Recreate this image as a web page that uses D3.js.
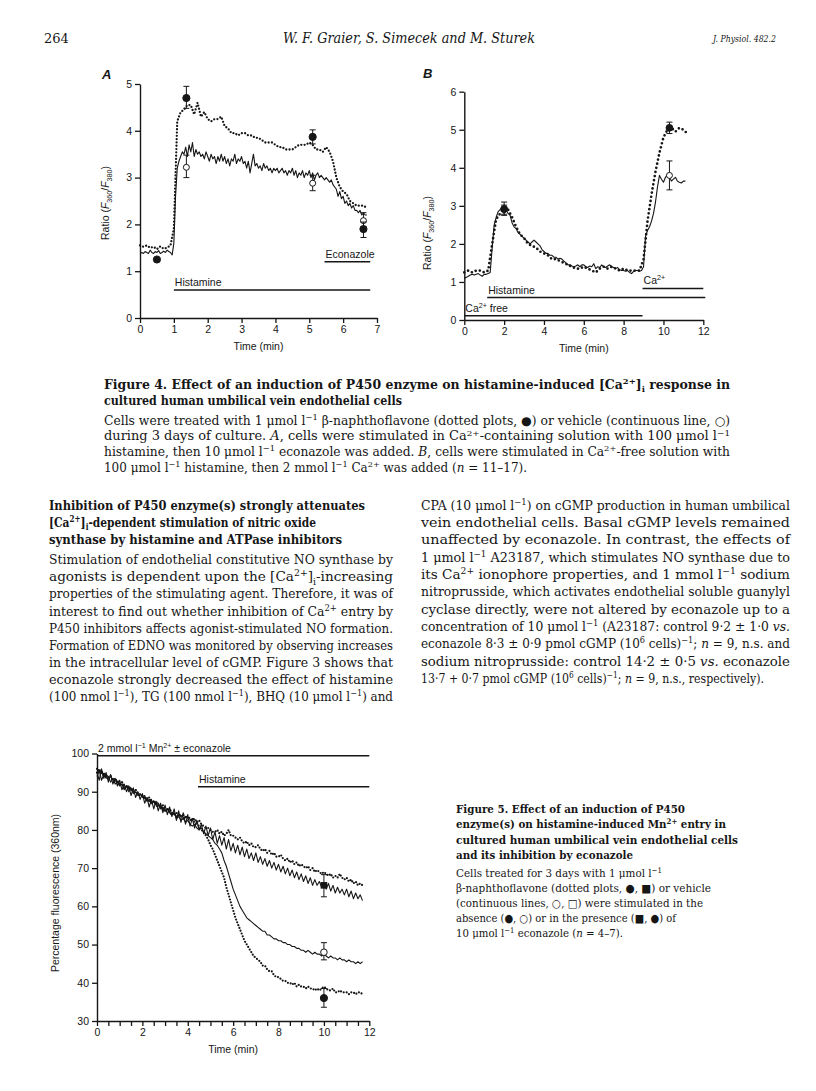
<!DOCTYPE html>
<html>
<head>
<meta charset="utf-8">
<script src="https://cdn.jsdelivr.net/npm/d3@7"></script>
<style>
body { margin: 0; background: #fff; }
</style>
</head>
<body>
<div id="page"></div>
<script>
// ---------- data ----------

// Fig 4A : ratio traces, sampled at a fixed step (min)
var aDotStep = 0.1;
var aDotted = [1.55, 1.52, 1.55, 1.5, 1.52, 1.47, 1.53, 1.48, 1.5, 1.55,
    1.9, 4.2, 4.4, 4.45, 4.55, 4.55, 4.35, 4.6, 4.3, 4.4,
    4.25, 4.2, 4.25, 4.25, 4.3, 4.1, 4.05, 3.95, 3.95, 3.9,
    3.95, 3.95, 3.9, 3.9, 3.85, 3.85, 3.8, 3.75, 3.75, 3.75,
    3.7, 3.65, 3.65, 3.6, 3.6, 3.6, 3.65, 3.7, 3.7, 3.7,
    3.75, 3.7, 3.6, 3.6, 3.55, 3.65, 3.55, 3.35, 3.0, 2.8,
    2.7, 2.65, 2.5, 2.45, 2.4, 2.4, 2.4, 2.35];
var aSolidStep = 0.05;
var aSolid = [1.38, 1.4, 1.38, 1.42, 1.4, 1.38, 1.45, 1.4, 1.38, 1.42, 1.4, 1.44, 1.38, 1.4, 1.43, 1.4, 1.45, 1.42, 1.4, 1.35,
    1.6, 2.6, 3.2, 3.35, 3.45, 3.55, 3.5, 3.65, 3.45, 3.7, 3.55, 3.75, 3.45, 3.6, 3.5, 3.55, 3.45, 3.5, 3.4, 3.55,
    3.45, 3.35, 3.5, 3.4, 3.45, 3.3, 3.45, 3.35, 3.5, 3.35, 3.45, 3.3, 3.4, 3.25, 3.4, 3.35, 3.5, 3.3, 3.4, 3.35,
    3.45, 3.3, 3.35, 3.2, 3.35, 3.1, 3.3, 3.5, 3.25, 3.3, 3.2, 3.25, 3.15, 3.3, 3.2, 3.25, 3.15, 3.2, 3.1, 3.2,
    3.15, 3.2, 3.1, 3.15, 3.2, 3.1, 3.15, 3.05, 3.15, 3.1, 3.2, 3.05, 3.15, 3.0, 3.1, 3.05, 3.15, 3.0, 3.1, 3.05,
    3.15, 3.0, 3.1, 2.95, 3.05, 3.1, 3.0, 3.05, 3.0, 2.95, 3.0, 2.95, 2.9, 2.95, 2.85, 2.8, 2.75, 2.6, 2.7, 2.55,
    2.6, 2.45, 2.5, 2.4, 2.45, 2.35, 2.4, 2.3, 2.3, 2.25, 2.3, 2.2, 2.25, 2.2, 2.2];
// means with SEM: [time, value, low, high]
var aFilled = [[0.5, 1.25, null, null], [1.37, 4.7, 4.48, 4.95], [5.1, 3.87, 3.72, 4.02], [6.6, 1.9, 1.72, 2.05]];
var aOpen = [[1.37, 3.22, 3.0, 3.48], [5.1, 2.88, 2.72, 3.05], [6.6, 2.08, 1.95, 2.25]];

// Fig 4B
var bDotStep = 0.2;
var bDotted = [1.25, 1.3, 1.25, 1.3, 1.3, 1.25, 1.3, 2.0, 2.65, 2.8,
    2.95, 2.9, 2.7, 2.45, 2.25, 2.15, 2.0, 1.95, 1.9, 1.8,
    1.75, 1.7, 1.6, 1.6, 1.55, 1.5, 1.45, 1.4, 1.35, 1.35,
    1.4, 1.35, 1.3, 1.25, 1.35, 1.4, 1.35, 1.4, 1.35, 1.3,
    1.35, 1.3, 1.3, 1.3, 1.3, 1.6, 2.6, 3.3, 3.9, 4.4,
    4.8, 5.0, 5.05, 4.95, 5.05, 5.0, 4.9];
var bSolidStep = 0.1;
var bSolid = [1.1, 1.12, 1.15, 1.18, 1.2, 1.18, 1.2, 1.22, 1.18, 1.15, 1.2, 1.2, 1.22, 1.25, 1.9, 2.5, 2.7, 2.85, 2.9, 2.95,
    2.95, 2.9, 2.8, 2.75, 2.55, 2.45, 2.4, 2.3, 2.25, 2.2, 2.15, 2.1, 2.05, 2.0, 2.05, 2.1, 2.05, 2.0, 1.95, 1.85,
    1.8, 1.75, 1.75, 1.7, 1.7, 1.65, 1.65, 1.6, 1.62, 1.6, 1.55, 1.5, 1.45, 1.45, 1.42, 1.4, 1.42, 1.45, 1.4, 1.45,
    1.45, 1.4, 1.38, 1.42, 1.4, 1.48, 1.35, 1.4, 1.38, 1.45, 1.4, 1.38, 1.42, 1.45, 1.4, 1.38, 1.35, 1.38, 1.32, 1.3,
    1.3, 1.28, 1.3, 1.25, 1.22, 1.28, 1.3, 1.3, 1.28, 1.3, 1.4, 2.2, 2.35, 2.45, 2.6, 2.8, 3.1, 3.5, 3.8, 3.7,
    3.62, 3.75, 3.82, 3.75, 3.65, 3.7, 3.75, 3.65, 3.62, 3.6, 3.65, 3.65];
var bFilled = [[2.0, 2.92, 2.75, 3.1], [10.3, 5.05, 4.9, 5.2]];
var bOpen = [[2.0, 2.9, 2.78, 3.02], [10.3, 3.8, 3.42, 4.18]];

// Fig 5 : % fluorescence, 0.1 min step
var mnStep = 0.1;
var mnDotHist = [95, 96, 94.5, 95, 94, 93.5, 94, 93, 92.5, 93,
    92, 92.5, 91.5, 91, 91.5, 90.5, 90, 90.5, 89.5, 89,
    89, 88.5, 88, 88.5, 87.5, 87, 87.5, 86.5, 86, 86.5,
    85.5, 85, 85.5, 84.5, 84, 84.5, 83.5, 84, 83, 83.5,
    83, 82.5, 83, 82, 81.5, 81, 80, 79.5, 78.5, 77.5,
    76, 75, 73.5, 72, 70.5, 69, 67.5, 65, 63, 61,
    59, 57, 55.5, 54, 52.5, 51, 50, 49, 48, 47,
    46.5, 46, 45.5, 44.5, 44.5, 43.5, 43, 43, 42, 41.5,
    41.5, 41, 40.5, 40.5, 40, 40, 39.5, 40, 39, 39.5,
    39, 39, 38.5, 39, 38.5, 38.5, 38, 38.5, 38, 38.5,
    39, 38.5, 38, 38, 38.5, 37.5, 37.5, 38, 37.5, 37.5,
    37.5, 37, 37.5, 37.5, 37, 37.5, 37.5, 37];
var mnSolHist = [94, 95.5, 93, 94.5, 93.5, 94, 92.5, 93.5, 92, 92.5,
    91.5, 92, 90.5, 91.5, 90, 91, 89.5, 90, 89, 89.5,
    88.5, 89, 87.5, 88, 87, 87.5, 86.5, 87, 85.5, 86,
    85, 85.5, 84.5, 84, 84.5, 83, 83.5, 82.5, 83, 82,
    82.5, 81.5, 81, 81.5, 80.5, 80, 80.5, 79.5, 79, 78.5,
    78, 77.5, 76.5, 76, 75, 74, 72, 70.5, 68.5, 66.5,
    64.5, 63, 61.5, 60, 59, 58, 57, 56.5, 56, 55.5,
    55, 54.5, 54, 53.5, 53.5, 52.5, 52.5, 52, 51.5, 51.5,
    51, 51, 50.5, 50.5, 50, 50, 49.5, 49.5, 49, 49,
    48.5, 48.5, 48, 48.5, 48, 47.5, 48, 47.5, 47.5, 47,
    47.5, 47, 46.5, 47, 46.5, 46.5, 46, 46.5, 46, 46,
    45.5, 46, 45.5, 45.5, 45, 45.5, 45, 45.5];
var mnDotEco = [96, 95, 95.5, 94, 94.5, 93.5, 94, 93, 93.5, 92.5,
    92, 92.5, 91, 91.5, 90.5, 91, 90, 90.5, 89.5, 89,
    89, 88, 88.5, 87.5, 87, 87.5, 86.5, 86, 86.5, 85.5,
    85, 85.5, 84.5, 84, 84.5, 83.5, 84, 83.5, 84, 83,
    83.5, 83, 82.5, 83, 82, 82.5, 81.5, 81, 80.5, 80.5,
    80, 79.5, 79.5, 80, 79, 79.5, 78.5, 79, 80, 78.5,
    78.5, 78, 77.5, 78, 77, 76.5, 77, 76, 76.5, 75.5,
    75.5, 76, 75, 74.5, 75, 74, 74.5, 73.5, 74, 73,
    73, 73.5, 72.5, 72, 72.5, 71.5, 72, 71, 71.5, 70.5,
    71, 70.5, 70, 70.5, 69.5, 70, 69, 69.5, 69, 68.5,
    69, 68.5, 68, 68.5, 67.5, 68, 67.5, 68.5, 67.5, 67,
    67.5, 66.5, 67, 66, 66.5, 65.5, 66, 65.5];
var mnSolEco = [95, 93, 96, 93.5, 95, 92.5, 94.5, 92, 93.5, 91.5,
    93, 90.5, 92, 90, 91.5, 89, 91, 88.5, 90, 88,
    89.5, 87, 88.5, 86, 88, 85.5, 87.5, 85, 87, 84.5,
    86.5, 84, 86, 83.5, 85.5, 82.5, 85, 82, 84.5, 81.5,
    84, 81, 83, 80.5, 82.5, 80, 81.5, 79, 81, 78.5,
    80.5, 77.5, 79.5, 76.5, 78.5, 76, 78, 75, 77.5, 74.5,
    76.5, 74, 76, 73.5, 75.5, 73, 75, 72.5, 74, 72,
    74, 71.5, 73, 71, 72.5, 70.5, 72, 70, 71.5, 69.5,
    71, 69, 70.5, 68.5, 70, 68, 69.5, 67.5, 69, 67,
    68.5, 66.5, 68, 66, 67.5, 65.5, 67, 65.5, 66.5, 65,
    66, 64.5, 66, 64, 65.5, 63.5, 65, 63.5, 64.5, 63,
    64.5, 62.5, 64, 62, 63.5, 62, 63, 61.5];
var mnSquare = [[10, 65.5, 62.5, 68.3]];
var mnOpen = [[10, 48, 46, 50.5]];
var mnFilled = [[10, 36, 33.6, 38.5]];

// tick values
var aXTicks = [0, 1, 2, 3, 4, 5, 6, 7];
var aYTicks = [0, 1, 2, 3, 4, 5];
var bXTicks = [0, 2, 4, 6, 8, 10, 12];
var bYTicks = [0, 1, 2, 3, 4, 5, 6];
var mnXTicks = [0, 0.5, 1, 1.5, 2, 2.5, 3, 3.5, 4, 4.5, 5, 5.5, 6, 6.5, 7, 7.5, 8, 8.5, 9, 9.5, 10, 10.5, 11, 11.5, 12];
var mnYTicks = [30, 40, 50, 60, 70, 80, 90, 100];

// ---------- page text ----------
var headLeft = ["Inhibition of P450 enzyme(s) strongly attenuates",
    "[Ca^{2+}]_{i}-dependent stimulation of nitric oxide",
    "synthase by histamine and ATPase inhibitors"];
var bodyLeft = ["Stimulation of endothelial constitutive NO synthase by",
    "agonists is dependent upon the [Ca^{2+}]_{i}-increasing",
    "properties of the stimulating agent. Therefore, it was of",
    "interest to find out whether inhibition of Ca^{2+} entry by",
    "P450 inhibitors affects agonist-stimulated NO formation.",
    "Formation of EDNO was monitored by observing increases",
    "in the intracellular level of cGMP. Figure 3 shows that",
    "econazole strongly decreased the effect of histamine",
    "(100 nmol l^{−1}), TG (100 nmol l^{−1}), BHQ (10 μmol l^{−1}) and"];
var bodyRight = ["CPA (10 μmol l^{−1}) on cGMP production in human umbilical",
    "vein endothelial cells. Basal cGMP levels remained",
    "unaffected by econazole. In contrast, the effects of",
    "1 μmol l^{−1} A23187, which stimulates NO synthase due to",
    "its Ca^{2+} ionophore properties, and 1 mmol l^{−1} sodium",
    "nitroprusside, which activates endothelial soluble guanylyl",
    "cyclase directly, were not altered by econazole up to a",
    "concentration of 10 μmol l^{−1} (A23187: control 9·2 ± 1·0 *vs.*",
    "econazole 8·3 ± 0·9 pmol cGMP (10^{6} cells)^{−1}; *n* = 9, n.s. and",
    "sodium nitroprusside: control 14·2 ± 0·5 *vs.* econazole",
    "13·7 + 0·7 pmol cGMP (10^{6} cells)^{−1}; *n* = 9, n.s., respectively)."];
var fig4Title = ["Figure 4. Effect of an induction of P450 enzyme on histamine-induced [Ca^{2+}]_{i} response in",
    "cultured human umbilical vein endothelial cells"];
var fig4Text = ["Cells were treated with 1 μmol l^{−1} β-naphthoflavone (dotted plots, ●) or vehicle (continuous line, ○)",
    "during 3 days of culture. *A*, cells were stimulated in Ca^{2+}-containing solution with 100 μmol l^{−1}",
    "histamine, then 10 μmol l^{−1} econazole was added. *B*, cells were stimulated in Ca^{2+}-free solution with",
    "100 μmol l^{−1} histamine, then 2 mmol l^{−1} Ca^{2+} was added (*n* = 11–17)."];
var fig5Title = ["Figure 5. Effect of an induction of P450",
    "enzyme(s) on histamine-induced Mn^{2+} entry in",
    "cultured human umbilical vein endothelial cells",
    "and its inhibition by econazole"];
var fig5Text = ["Cells treated for 3 days with 1 μmol l^{−1}",
    "β-naphthoflavone (dotted plots, ●, ■) or vehicle",
    "(continuous lines, ○, □) were stimulated in the",
    "absence (●, ○) or in the presence (■, ●) of",
    "10 μmol l^{−1} econazole (*n* = 4–7)."];

// ---------- drawing ----------
var INK = "#161616";
var SERIF = "'DejaVu Serif', 'Liberation Serif', serif";
var SANS = "'Liberation Sans', Arial, sans-serif";

var svg = d3.select("#page").append("svg")
    .attr("width", 816)
    .attr("height", 1091)
    .style("display", "block");

svg.append("rect").attr("width", 816).attr("height", 1091).attr("fill", "#fff");

// text line with ^{sup}, _{sub} and *italic* markup
function richLine(x, y, str, o) {
    var fs = o.size;
    var t = svg.append("text")
        .attr("x", x).attr("y", y)
        .attr("fill", INK)
        .style("font-family", o.family || SERIF)
        .style("font-size", fs + "px")
        .style("font-weight", o.bold ? "bold" : "normal")
        .style("font-style", o.italic ? "italic" : "normal");
    if (o.anchor) t.attr("text-anchor", o.anchor);
    if (o.transform) t.attr("transform", o.transform);
    var parts = str.split(/(\^\{[^}]*\}|_\{[^}]*\}|\*[^*]+\*)/);
    var cur = 0;
    parts.forEach(function(p) {
        if (p === "" || p === undefined) return;
        var txt = p, shift = 0, size = fs, ital = false;
        if (p.slice(0, 2) === "^{") {
            txt = p.slice(2, -1); shift = -0.4 * fs; size = 0.68 * fs;
        } else if (p.slice(0, 2) === "_{") {
            txt = p.slice(2, -1); shift = 0.28 * fs; size = 0.68 * fs;
        } else if (p[0] === "*") {
            txt = p.slice(1, -1); ital = true;
        }
        var ts = t.append("tspan").text(txt)
            .attr("dy", shift - cur)
            .style("font-size", size + "px");
        if (ital) ts.style("font-style", "italic");
        cur = shift;
    });
    if (o.width) t.attr("textLength", o.width).attr("lengthAdjust", "spacingAndGlyphs");
    return t;
}

// running head
richLine(44, 43, "264", {size: 13});
richLine(283, 43, "W. F. Graier, S. Simecek and M. Sturek", {size: 15, italic: true, width: 252});
richLine(713, 42, "J. Physiol. 482.2", {size: 10, italic: true, width: 63});

// one chart panel with axes
function panel(o) {
    var x = d3.scaleLinear().domain(o.xDomain).range(o.xRange);
    var y = d3.scaleLinear().domain(o.yDomain).range(o.yRange);
    var g = svg.append("g");

    var xa = g.append("g")
        .attr("transform", "translate(0," + o.yRange[0] + ")")
        .call(d3.axisBottom(x).tickValues(o.xTicks).tickSize(5).tickSizeOuter(0).tickPadding(3)
            .tickFormat(o.xFormat || d3.format("d")));
    var ya = g.append("g")
        .attr("transform", "translate(" + o.xRange[0] + ",0)")
        .call(d3.axisLeft(y).tickValues(o.yTicks).tickSize(5).tickSizeOuter(0).tickPadding(3)
            .tickFormat(d3.format("d")));
    [xa, ya].forEach(function(a) {
        a.select(".domain").attr("stroke", INK).attr("stroke-width", 1.4);
        a.selectAll(".tick line").attr("stroke", INK).attr("stroke-width", 1.3);
        a.selectAll(".tick text").attr("fill", INK)
            .style("font-family", SANS).style("font-size", "10.5px");
    });

    // x title
    g.append("text")
        .attr("x", (o.xRange[0] + o.xRange[1]) / 2 + (o.xTitleDx || 0))
        .attr("y", o.yRange[0] + 32)
        .attr("text-anchor", "middle")
        .attr("fill", INK)
        .style("font-family", SANS).style("font-size", "10.5px")
        .text("Time (min)");
    return {g: g, x: x, y: y};
}

function trace(p, step, vals, dotted, dash, width) {
    var line = d3.line()
        .x(function(d, i) { return p.x(i * step); })
        .y(function(d) { return p.y(d); });
    var path = p.g.append("path")
        .datum(vals)
        .attr("fill", "none")
        .attr("stroke", INK)
        .attr("d", line);
    if (dotted) {
        path.attr("stroke-width", width).attr("stroke-linecap", "round")
            .attr("stroke-dasharray", dash);
    } else {
        path.attr("stroke-width", width).attr("stroke-linejoin", "round");
    }
}

function markers(p, pts, kind, r) {
    pts.forEach(function(d) {
        var cx = p.x(d[0]), cy = p.y(d[1]);
        if (d[2] !== null) {
            p.g.append("line").attr("x1", cx).attr("x2", cx)
                .attr("y1", p.y(d[2])).attr("y2", p.y(d[3]))
                .attr("stroke", INK).attr("stroke-width", 1);
            [d[2], d[3]].forEach(function(v) {
                p.g.append("line").attr("x1", cx - 3).attr("x2", cx + 3)
                    .attr("y1", p.y(v)).attr("y2", p.y(v))
                    .attr("stroke", INK).attr("stroke-width", 1);
            });
        }
        if (kind === "square") {
            p.g.append("rect").attr("x", cx - r).attr("y", cy - r)
                .attr("width", 2 * r).attr("height", 2 * r).attr("fill", INK);
        } else {
            p.g.append("circle").attr("cx", cx).attr("cy", cy).attr("r", r)
                .attr("fill", kind === "open" ? "#fff" : INK)
                .attr("stroke", INK).attr("stroke-width", 1);
        }
    });
}

// protocol bar with label above it
function bar(p, from, to, level, label, dy) {
    p.g.append("line")
        .attr("x1", p.x(from)).attr("x2", p.x(to))
        .attr("y1", p.y(level)).attr("y2", p.y(level))
        .attr("stroke", INK).attr("stroke-width", 1.5);
    richLine(p.x(from) + 1, p.y(level) - (dy || 4), label, {size: 10.5, family: SANS});
}

// ----- Figure 4A -----
var pa = panel({xDomain: [0, 7], xRange: [140, 377], yDomain: [0, 5], yRange: [318, 84],
    xTicks: aXTicks, yTicks: aYTicks});
trace(pa, aSolidStep, aSolid, false, null, 1.1);
trace(pa, aDotStep, aDotted, true, "0,3.3", 2.3);
markers(pa, aOpen, "open", 3);
markers(pa, aFilled, "filled", 3.6);
bar(pa, 1.0, 6.8, 0.6, "Histamine", 4);
bar(pa, 5.45, 6.8, 1.2, "Econazole", 4);
richLine(0, 0, "Ratio (*F*_{360}/*F*_{380})", {size: 10.5, family: SANS, anchor: "middle",
    transform: "translate(109,203) rotate(-90)"});
richLine(102, 79, "A", {size: 13, family: SANS, italic: true, bold: true});

// ----- Figure 4B -----
var pb = panel({xDomain: [0, 12], xRange: [464.3, 703.3], yDomain: [0, 6], yRange: [320, 91.7],
    xTicks: bXTicks, yTicks: bYTicks});
trace(pb, bSolidStep, bSolid, false, null, 1.1);
trace(pb, bDotStep, bDotted, true, "0,4.2", 2.7);
markers(pb, bOpen, "open", 3);
markers(pb, bFilled, "filled", 3.4);
bar(pb, 8.95, 12, 0.83, "Ca^{2+}", 4);
bar(pb, 1.15, 12.1, 0.59, "Histamine", 4);
bar(pb, 0, 8.95, 0.11, "Ca^{2+} free", 4);
richLine(0, 0, "Ratio (*F*_{360}/*F*_{380})", {size: 10.5, family: SANS, anchor: "middle",
    transform: "translate(431,233) rotate(-90)"});
richLine(423, 78, "B", {size: 13, family: SANS, italic: true, bold: true});

// ----- Figure 5 -----
var pm = panel({xDomain: [0, 12], xRange: [97, 369.3], yDomain: [30, 100], yRange: [1021, 753.5],
    xTicks: mnXTicks, yTicks: mnYTicks,
    xFormat: function(d) { return d % 2 === 0 ? d : ""; }});
trace(pm, mnStep, mnSolEco, false, null, 1.1);
trace(pm, mnStep, mnSolHist, false, null, 1.1);
trace(pm, mnStep, mnDotEco, true, "0,3", 2.2);
trace(pm, mnStep, mnDotHist, true, "0,3", 2.2);
markers(pm, mnSquare, "square", 3.3);
markers(pm, mnOpen, "open", 3.3);
markers(pm, mnFilled, "filled", 3.6);
bar(pm, 0, 12, 99.4, "2 mmol l^{−1} Mn^{2+} ± econazole", 4);
bar(pm, 4.45, 12, 91.3, "Histamine", 4);
richLine(0, 0, "Percentage fluorescence (360nm)", {size: 10.5, family: SANS, anchor: "middle",
    transform: "translate(59,893) rotate(-90)"});

// ---------- captions and body text ----------
var fig4Y = [389, 405];
richLine(104, fig4Y[0], fig4Title[0], {size: 12, bold: true, width: 626});
richLine(104, fig4Y[1], fig4Title[1], {size: 12, bold: true, width: 298});
var fig4W = [626, 626, 626, 423];
fig4Text.forEach(function(s, i) {
    richLine(104, 424.5 + i * 15.8, s, {size: 12, width: fig4W[i]});
});

// left column
var headW = [316, 267, 293];
headLeft.forEach(function(s, i) {
    richLine(49, 509.7 + i * 17.2, s, {size: 12.2, bold: true, width: headW[i]});
});
bodyLeft.forEach(function(s, i) {
    richLine(49, 564 + i * 17.17, s, {size: 12.2, width: 344});
});

// right column
bodyRight.forEach(function(s, i) {
    var w = i === bodyRight.length - 1 ? 343 : 369;
    richLine(421, 509.7 + i * 17.33, s, {size: 12.2, width: w});
});

// Figure 5 caption
var fig5TitleW = [229, 270, 282, 177];
fig5Title.forEach(function(s, i) {
    richLine(456, 813 + i * 15.3, s, {size: 11.2, bold: true, width: fig5TitleW[i]});
});
var fig5TextW = [206, 255, 247, 220, 167];
fig5Text.forEach(function(s, i) {
    richLine(456, 877 + i * 15, s, {size: 11.2, width: fig5TextW[i]});
});
</script>
</body>
</html>
